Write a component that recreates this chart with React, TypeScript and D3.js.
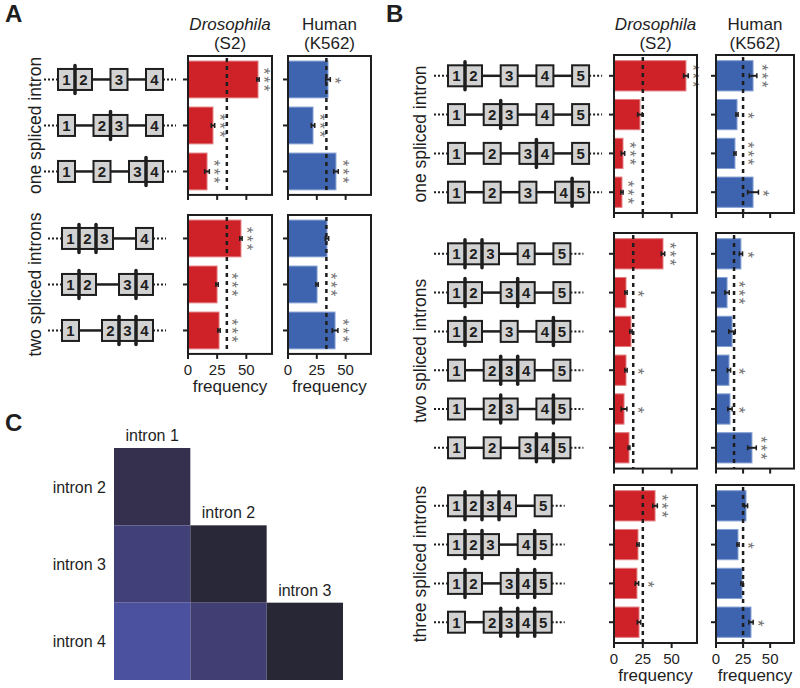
import * as d3 from "d3";

// ---- data ----
const xMax = 72;
const freqTicks = [0, 25, 50];

// panel A: 4-exon reporter
const groupsA = ["one spliced intron", "two spliced introns"];
const isoformsA = [
  ["12-3-4", "1-23-4", "1-2-34"],
  ["123-4", "12-34", "1-234"],
];
const expectedA = [33.3, 33.3];
const droA = [[60, 21.4, 16.3], [45.4, 24.9, 26.6]];
const droErrA = [[1, 1.5, 2], [1, 1, 1]];
const droSigA = [[3, 3, 3], [3, 3, 3]];
const humA = [[34.7, 21.7, 41.6], [33.8, 25.2, 40.8]];
const humErrA = [[2, 1.5, 2], [1.5, 1, 2.5]];
const humSigA = [[1, 3, 3], [0, 3, 3]];

// panel B: 5-exon reporter
const groupsB = ["one spliced intron", "two spliced introns", "three spliced introns"];
const isoformsB = [
  ["12-3-4-5", "1-23-4-5", "1-2-34-5", "1-2-3-45"],
  ["123-4-5", "12-34-5", "12-3-45", "1-234-5", "1-23-45", "1-2-345"],
  ["1234-5", "123-45", "12-345", "1-2345"],
];
const expectedB = [25, 16.67, 25];
const droB = [
  [62.4, 22.5, 7.8, 6.9],
  [42.5, 10.4, 14.7, 10.4, 8.7, 13],
  [35.6, 20.8, 19.9, 21.7],
];
const droErrB = [
  [2, 2, 1.5, 1],
  [1.5, 1, 1, 1, 2.5, 0.8],
  [2, 1, 1.5, 1.5],
];
const droSigB = [
  [3, 0, 3, 3],
  [3, 1, 0, 1, 1, 0],
  [3, 0, 1, 0],
];
const humB = [
  [34.2, 19.4, 17.5, 34.2],
  [23, 10.2, 14.8, 12, 12.9, 33.2],
  [27.7, 20.3, 24, 32.3],
];
const humErrB = [
  [3.5, 1, 1, 5],
  [1.5, 2, 3, 1.5, 2, 4],
  [1.5, 1, 1, 2],
];
const humSigB = [
  [3, 1, 3, 1],
  [1, 3, 0, 1, 1, 3],
  [0, 1, 0, 1],
];

// panel C: co-splicing heatmap (lower triangle)
const heatCols = ["intron 1", "intron 2", "intron 3"];
const heatRows = ["intron 2", "intron 3", "intron 4"];
const heatValues = [[0.3], [0.65, 0.03], [1.0, 0.6, 0.0]];

// ---- styling ----
const FONT = "'Liberation Sans', Arial, Helvetica, sans-serif";
const NUM_FONT = "'Liberation Sans Narrow', 'Liberation Sans', Arial, sans-serif";
const INK = "#1e1e1e";
const RED = "#cf2128";
const RED_EDGE = "#e17d80";
const BLUE = "#3e64b0";
const BLUE_EDGE = "#86a0d2";

function bandY(top: number, n: number, step: number, pi: number, po: number) {
  const h = step * (n - pi + 2 * po);
  return d3
    .scaleBand<number>()
    .domain(d3.range(n))
    .range([top, top + h])
    .paddingInner(pi)
    .paddingOuter(po);
}

function Gene({ iso, x0, y, gap }: { iso: string; x0: number; y: number; gap: number }) {
  const ew = 17;
  const eh = 21;
  const exons: { label: string; x: number }[] = [];
  const junctions: number[] = [];
  const introns: [number, number][] = [];
  let x = x0;
  iso.split("-").forEach((blk, bi) => {
    if (bi > 0) {
      introns.push([x, x + gap]);
      x += gap;
    }
    blk.split("").forEach((d, i) => {
      if (i > 0) junctions.push(x);
      exons.push({ label: d, x });
      x += ew;
    });
  });
  const x1 = x;
  return (
    <g>
      <line x1={x0 - 14} x2={x0} y1={y} y2={y} stroke={INK} strokeWidth={2} strokeDasharray="2,2" />
      <line x1={x1} x2={x1 + 13} y1={y} y2={y} stroke={INK} strokeWidth={2} strokeDasharray="2,2" />
      {introns.map(([a, b], i) => (
        <line key={i} x1={a} x2={b} y1={y} y2={y} stroke={INK} strokeWidth={2.5} />
      ))}
      {exons.map((e, i) => (
        <g key={i}>
          <rect x={e.x} y={y - eh / 2} width={ew} height={eh} fill="#d2d2d2" stroke={INK} strokeWidth={2} />
          <text
            x={e.x + ew / 2}
            y={y + 5.5}
            textAnchor="middle"
            fontFamily={NUM_FONT}
            fontWeight="bold"
            fontSize={15}
            fill={INK}
          >
            {e.label}
          </text>
        </g>
      ))}
      {junctions.map((jx, i) => (
        <line key={i} x1={jx} x2={jx} y1={y - 14} y2={y + 14} stroke={INK} strokeWidth={3.5} strokeLinecap="round" />
      ))}
    </g>
  );
}

type BarProps = {
  left: number;
  width: number;
  y: d3.ScaleBand<number>;
  values: number[];
  errs: number[];
  sigs: number[];
  expected: number;
  fill: string;
  edge: string;
  labels: boolean;
};

function Bars({ left, width, y, values, errs, sigs, expected, fill, edge, labels }: BarProps) {
  const x = d3.scaleLinear().domain([0, xMax]).range([left, left + width]);
  const [top, bottom] = y.range();
  const bw = y.bandwidth();
  const dashX = x(expected);
  return (
    <g>
      <rect x={left} y={top} width={width} height={bottom - top} fill="white" />
      {values.map((v, i) => {
        const cy = (y(i) as number) + bw / 2;
        const end = x(v + errs[i]);
        let sx = end + 5;
        if (x(v) < dashX && dashX - end < 11) sx = dashX + 5;
        return (
          <g key={i}>
            <rect x={x(0)} y={y(i)} width={x(v) - x(0)} height={bw} fill={fill} stroke={edge} strokeWidth={1} />
            <line x1={x(v - errs[i])} x2={x(v + errs[i])} y1={cy} y2={cy} stroke={INK} strokeWidth={2} />
            <line x1={x(v - errs[i])} x2={x(v - errs[i])} y1={cy - 2.5} y2={cy + 2.5} stroke={INK} strokeWidth={1.5} />
            <line x1={x(v + errs[i])} x2={x(v + errs[i])} y1={cy - 2.5} y2={cy + 2.5} stroke={INK} strokeWidth={1.5} />
            <line x1={left - 5} x2={left} y1={cy} y2={cy} stroke={INK} strokeWidth={2} />
            {sigs[i] > 0 && (
              // significance stars stacked vertically: one rotated text run
              <text
                transform={`translate(${sx + 4 - 10},${cy + 1}) rotate(90)`}
                textAnchor="middle"
                fontFamily={FONT}
                fontSize={17}
                letterSpacing={sigs[i] > 1 ? 1.8 : 0}
                fill="#747474"
              >
                {"*".repeat(sigs[i])}
              </text>
            )}
          </g>
        );
      })}
      <line x1={dashX} x2={dashX} y1={top + 2} y2={bottom} stroke={INK} strokeWidth={2.5} strokeDasharray="4,4" />
      <rect x={left} y={top} width={width} height={bottom - top} fill="none" stroke={INK} strokeWidth={2} />
      {freqTicks.map((t) => (
        <g key={t}>
          <line x1={x(t)} x2={x(t)} y1={bottom} y2={bottom + 5} stroke={INK} strokeWidth={2} />
          {labels && (
            <text x={x(t)} y={bottom + 21} textAnchor="middle" fontFamily={FONT} fontSize={15} fill={INK}>
              {t}
            </text>
          )}
        </g>
      ))}
      {labels && (
        <text x={left + width / 2} y={bottom + 38} textAnchor="middle" fontFamily={FONT} fontSize={17} fill={INK}>
          frequency
        </text>
      )}
    </g>
  );
}

function Titles({ dro, hum }: { dro: number; hum: number }) {
  return (
    <g fontFamily={FONT} fontSize={17} fill={INK} textAnchor="middle">
      <text x={dro} y={30} fontStyle="italic">Drosophila</text>
      <text x={dro} y={49}>(S2)</text>
      <text x={hum} y={30}>Human</text>
      <text x={hum} y={49}>(K562)</text>
    </g>
  );
}

function PanelA() {
  const tops = [56, 215];
  const geneX = [58, 62];
  const gaps = [18.5, 23];
  return (
    <g>
      <text x={5} y={22} fontFamily={FONT} fontWeight="bold" fontSize={24} fill={INK}>A</text>
      <Titles dro={230} hum={329.5} />
      {groupsA.map((g, gi) => {
        const y = bandY(tops[gi], isoformsA[gi].length, 46, 0.2, 0.11);
        const [t, b] = y.range();
        const last = gi === groupsA.length - 1;
        return (
          <g key={g}>
            <text
              transform={`translate(41,${(t + b) / 2}) rotate(-90)`}
              textAnchor="middle"
              fontFamily={FONT}
              fontSize={17.5}
              fill={INK}
            >
              {g}
            </text>
            {isoformsA[gi].map((iso, i) => (
              <Gene key={iso} iso={iso} x0={geneX[gi]} y={(y(i) as number) + y.bandwidth() / 2} gap={gaps[gi]} />
            ))}
            <Bars left={188} width={84} y={y} values={droA[gi]} errs={droErrA[gi]} sigs={droSigA[gi]}
              expected={expectedA[gi]} fill={RED} edge={RED_EDGE} labels={last} />
            <Bars left={288} width={83} y={y} values={humA[gi]} errs={humErrA[gi]} sigs={humSigA[gi]}
              expected={expectedA[gi]} fill={BLUE} edge={BLUE_EDGE} labels={last} />
          </g>
        );
      })}
    </g>
  );
}

function PanelB() {
  const tops = [55, 233, 485];
  return (
    <g>
      <text x={386} y={22} fontFamily={FONT} fontWeight="bold" fontSize={24} fill={INK}>B</text>
      <Titles dro={655.5} hum={755} />
      {groupsB.map((g, gi) => {
        const y = bandY(tops[gi], isoformsB[gi].length, 38.8, 0.22, 0.146);
        const [t, b] = y.range();
        const last = gi === groupsB.length - 1;
        return (
          <g key={g}>
            <text
              transform={`translate(426,${(t + b) / 2}) rotate(-90)`}
              textAnchor="middle"
              fontFamily={FONT}
              fontSize={17.5}
              fill={INK}
            >
              {g}
            </text>
            {isoformsB[gi].map((iso, i) => (
              <Gene key={iso} iso={iso} x0={448} y={(y(i) as number) + y.bandwidth() / 2} gap={18.7} />
            ))}
            <Bars left={614} width={83} y={y} values={droB[gi]} errs={droErrB[gi]} sigs={droSigB[gi]}
              expected={expectedB[gi]} fill={RED} edge={RED_EDGE} labels={last} />
            <Bars left={716} width={78} y={y} values={humB[gi]} errs={humErrB[gi]} sigs={humSigB[gi]}
              expected={expectedB[gi]} fill={BLUE} edge={BLUE_EDGE} labels={last} />
          </g>
        );
      })}
    </g>
  );
}

function PanelC() {
  const x = d3.scaleBand<string>().domain(heatCols).range([114, 343]);
  const y = d3.scaleBand<string>().domain(heatRows).range([448, 680]);
  const color = d3
    .scaleLinear<string>()
    .domain([0, 0.3, 0.6, 1])
    .range(["#272736", "#34304e", "#403e73", "#4b509f"]);
  return (
    <g fontFamily={FONT} fill={INK}>
      <text x={5} y={431} fontWeight="bold" fontSize={24}>C</text>
      {heatRows.map((r, ri) =>
        heatValues[ri].map((v, ci) => (
          <rect key={`${r}-${ci}`} x={x(heatCols[ci])} y={y(r)} width={x.bandwidth()} height={y.bandwidth()} fill={color(v)} />
        ))
      )}
      {heatCols.map((c, ci) => (
        <text key={c} x={(x(c) as number) + x.bandwidth() / 2} y={(y(heatRows[ci]) as number) - 7}
          textAnchor="middle" fontSize={16}>
          {c}
        </text>
      ))}
      {heatRows.map((r) => (
        <text key={r} x={106} y={(y(r) as number) + y.bandwidth() / 2 + 6} textAnchor="end" fontSize={16}>
          {r}
        </text>
      ))}
    </g>
  );
}

export default function App() {
  return (
    <svg width={800} height={688} style={{ display: "block", position: "absolute", left: 0, top: 0, background: "white" }}>
      <rect width={800} height={688} fill="white" />
      <PanelA />
      <PanelB />
      <PanelC />
    </svg>
  );
}
